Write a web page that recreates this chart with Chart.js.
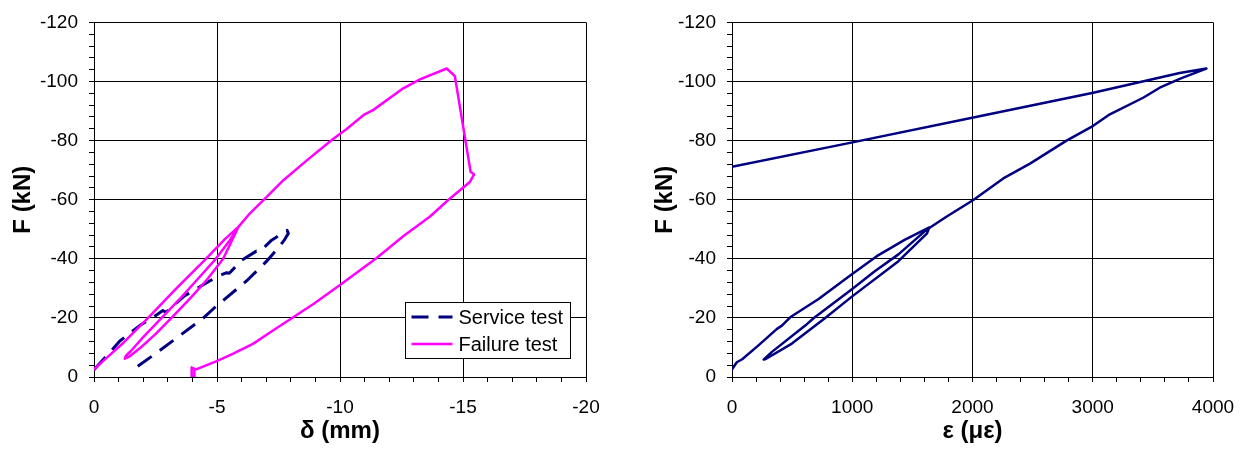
<!DOCTYPE html>
<html>
<head>
<meta charset="utf-8">
<title>Load - deflection and load - strain</title>
<script src="https://cdn.jsdelivr.net/npm/chart.js@4.4.0/dist/chart.umd.min.js"></script>
<style>
  body { margin: 0; background: #fff; }
  .panel { position: absolute; top: 0; width: 626px; height: 449px; }
  #leftPanel { left: 0; }
  #rightPanel { left: 626px; }
</style>
</head>
<body>
<div class="panel" id="leftPanel"><canvas id="deflectionChart"></canvas></div>
<div class="panel" id="rightPanel"><canvas id="strainChart"></canvas></div>
<script>
// Tick labels
const deltaTicks = [0, -5, -10, -15, -20];
const strainTicks = [0, 1000, 2000, 3000, 4000];
const forceTicks = [0, -20, -40, -60, -80, -100, -120];

// Service test: deflection (mm) / load (kN)
const serviceDelta = [0, -0.5, -1.04, -1.86, -2.4, -2.8, -2.92, -3.69, -4.7, -5.12, -5.39, -5.5, -6.0, -6.6, -6.75, -7.22, -7.7, -7.85,
  -7.9, -7.75, -7.49, -7.02, -6.2, -4.92, -4.44, -3.5, -2.6, -1.65];
const serviceForce = [-2.5, -7, -12.1, -17.4, -20.2, -22.5, -21.9, -27.5, -32.5, -34.4, -35.3, -35.1, -39.5, -42.6, -42.5, -46.3, -48.9, -49.6,
  -48.6, -46.5, -43.7, -39.2, -32.5, -23.6, -19.9, -14.1, -8.5, -2.9];

// Failure test: deflection (mm) / load (kN)
const failureDelta = [0, -0.5, -1.2, -2.2, -3.35, -4.55, -5.3, -5.87,
  -5.6, -5.25, -4.6, -3.9, -3.15, -2.5, -1.9, -1.45, -1.25,
  -1.3, -1.5, -2.0, -2.75, -3.5, -4.2, -4.95, -5.5, -5.87,
  -6.34, -6.95, -7.7, -8.65, -9.73, -10.27, -11.0, -11.36, -12.57, -13.25, -14.34, -14.67,
  -15.31, -15.45, -15.28, -14.4, -13.66, -12.57, -11.49, -10.0, -8.92, -8.1, -7.29, -6.48, -5.66, -4.99,
  -4.15, -3.97, -3.97, -4.08, -4.08];
const failureForce = [-2.6, -6.4, -11.6, -20, -30, -40, -46.5, -50.8,
  -46, -40, -33, -26.5, -20, -14.5, -10, -7, -6.2,
  -7.2, -8.8, -13.5, -20, -26.5, -33, -40, -46, -50.8,
  -55.4, -60.4, -66.6, -73.3, -80.6, -83.9, -88.9, -90.4, -97.7, -100.7, -104.4, -101.8,
  -69.4, -68.6, -66.0, -59.9, -54.3, -47.6, -40.3, -31.1, -24.7, -20.2, -15.8, -11.3, -7.9, -5.4,
  -2.6, -3.2, -0.1, -0.1, -2.3];

// Failure test: strain (microstrain) / load (kN)
const strainEps = [0, 40, 85, 220, 374, 415, 484, 720, 997, 1204, 1439, 1600, 1641,
  1620, 1384, 997, 775, 498, 277, 263,
  332, 609, 678, 997, 1190, 1384, 1600, 1647,
  1786, 2007, 2256, 2478, 2782, 3004, 3142, 3419, 3557, 3723, 3890, 3945,
  3723, 3004, 2007, 1002, 0];
const strainForce = [-2.6, -5, -6, -10.7, -16.3, -17.4, -20.2, -26.4, -34.8, -40.9, -46.5, -49.8, -50.6,
  -48.5, -39.2, -27.2, -20, -11.3, -6.0, -5.9,
  -8.5, -17.4, -19.9, -29.7, -35.9, -41.5, -49.2, -50.6,
  -54.3, -59.9, -67.2, -72.2, -80.0, -85.0, -88.9, -94.5, -97.9, -100.9, -103.5, -104.4,
  -102.9, -96.2, -87.8, -79.4, -71.1];

const navy = "#000080";
const magenta = "#ff00ff";
const fontFamily = "'Liberation Sans', Arial, sans-serif";

Chart.defaults.font.family = fontFamily;
Chart.defaults.color = "#000";

const toPoints = (xs, ys) => xs.map((x, i) => ({ x: x, y: ys[i] }));

// linear axis with minor tick marks, labels and grid lines only on the major values
const makeScale = (o) => ({
  type: "linear",
  reverse: o.reverse,
  min: o.min,
  max: o.max,
  afterFit: o.fit,
  ticks: {
    stepSize: o.step,
    autoSkip: false,
    maxRotation: 0,
    padding: o.pad,
    font: { size: 19 },
    color: "#000",
    callback: (value) => o.labels.includes(value) ? String(value) : ""
  },
  grid: {
    color: (c) => c.tick && o.labels.includes(c.tick.value) ? "#000" : "rgba(0,0,0,0)",
    tickColor: "#000",
    tickLength: 5,
    lineWidth: 1
  },
  border: { color: "#000", width: 1 },
  title: {
    display: true,
    text: o.title,
    color: "#000",
    font: { size: 24, weight: "bold" },
    padding: o.titlePad
  }
});

// legend box in the lower right corner of the plot
const boxLegend = {
  id: "boxLegend",
  afterDatasetsDraw(chart) {
    const { ctx, chartArea } = chart;
    const w = 165, h = 56;
    const x = Math.round(chartArea.right - 16 - w) + 0.5;
    const y = Math.round(chartArea.bottom - 19 - h) + 0.5;
    ctx.save();
    ctx.fillStyle = "#fff";
    ctx.fillRect(x, y, w, h);
    ctx.strokeStyle = "#000";
    ctx.lineWidth = 1;
    ctx.strokeRect(x, y, w, h);
    ctx.font = "20px " + fontFamily;
    ctx.textBaseline = "middle";
    chart.data.datasets.forEach((ds, i) => {
      const rowY = y + 14.5 + i * 27;
      ctx.beginPath();
      ctx.strokeStyle = ds.borderColor;
      ctx.lineWidth = ds.borderWidth;
      ctx.setLineDash(ds.borderDash || []);
      ctx.moveTo(x + 6, rowY);
      ctx.lineTo(x + 47, rowY);
      ctx.stroke();
      ctx.setLineDash([]);
      ctx.fillStyle = "#000";
      ctx.fillText(ds.label, x + 53, rowY + 1);
    });
    ctx.restore();
  }
};

const baseOptions = (xScale, yScale, padRight) => ({
  responsive: true,
  maintainAspectRatio: false,
  animation: false,
  layout: { padding: { top: 19, right: padRight, bottom: 0, left: 0 } },
  plugins: { legend: { display: false }, tooltip: { enabled: false } },
  scales: { x: xScale, y: yScale }
});

const deflectionChart = new Chart(document.getElementById("deflectionChart"), {
  type: "scatter",
  data: {
    datasets: [
      {
        label: "Service test",
        data: toPoints(serviceDelta, serviceForce),
        showLine: true,
        borderColor: navy,
        borderWidth: 3,
        borderDash: [17, 10],
        borderJoinStyle: "round",
        pointRadius: 0,
        order: 1
      },
      {
        label: "Failure test",
        data: toPoints(failureDelta, failureForce),
        showLine: true,
        borderColor: magenta,
        borderWidth: 2.5,
        borderJoinStyle: "round",
        borderCapStyle: "round",
        pointRadius: 0,
        order: 0
      }
    ]
  },
  options: baseOptions(
    makeScale({ reverse: true, min: -20, max: 0, step: 1, labels: deltaTicks, pad: 14, title: "δ (mm)",
      titlePad: { top: 0, bottom: 3 }, fit: (s) => { s.height = 72; } }),
    makeScale({ reverse: true, min: -120, max: 0, step: 4, labels: forceTicks, pad: 11, title: "F (kN)",
      titlePad: { top: 9, bottom: 0 }, fit: (s) => { s.width = 94; } }),
    40
  ),
  plugins: [boxLegend]
});

const strainChart = new Chart(document.getElementById("strainChart"), {
  type: "scatter",
  data: {
    datasets: [
      {
        label: "Failure test",
        data: toPoints(strainEps, strainForce),
        showLine: true,
        borderColor: navy,
        borderWidth: 2.5,
        borderJoinStyle: "round",
        borderCapStyle: "round",
        pointRadius: 0
      }
    ]
  },
  options: baseOptions(
    makeScale({ reverse: false, min: 0, max: 4000, step: 200, labels: strainTicks, pad: 14, title: "ε (με)",
      titlePad: { top: 0, bottom: 3 }, fit: (s) => { s.height = 72; } }),
    makeScale({ reverse: true, min: -120, max: 0, step: 4, labels: forceTicks, pad: 11, title: "F (kN)",
      titlePad: { top: 25, bottom: 0 }, fit: (s) => { s.width = 106; } }),
    39
  )
});
</script>
</body>
</html>
